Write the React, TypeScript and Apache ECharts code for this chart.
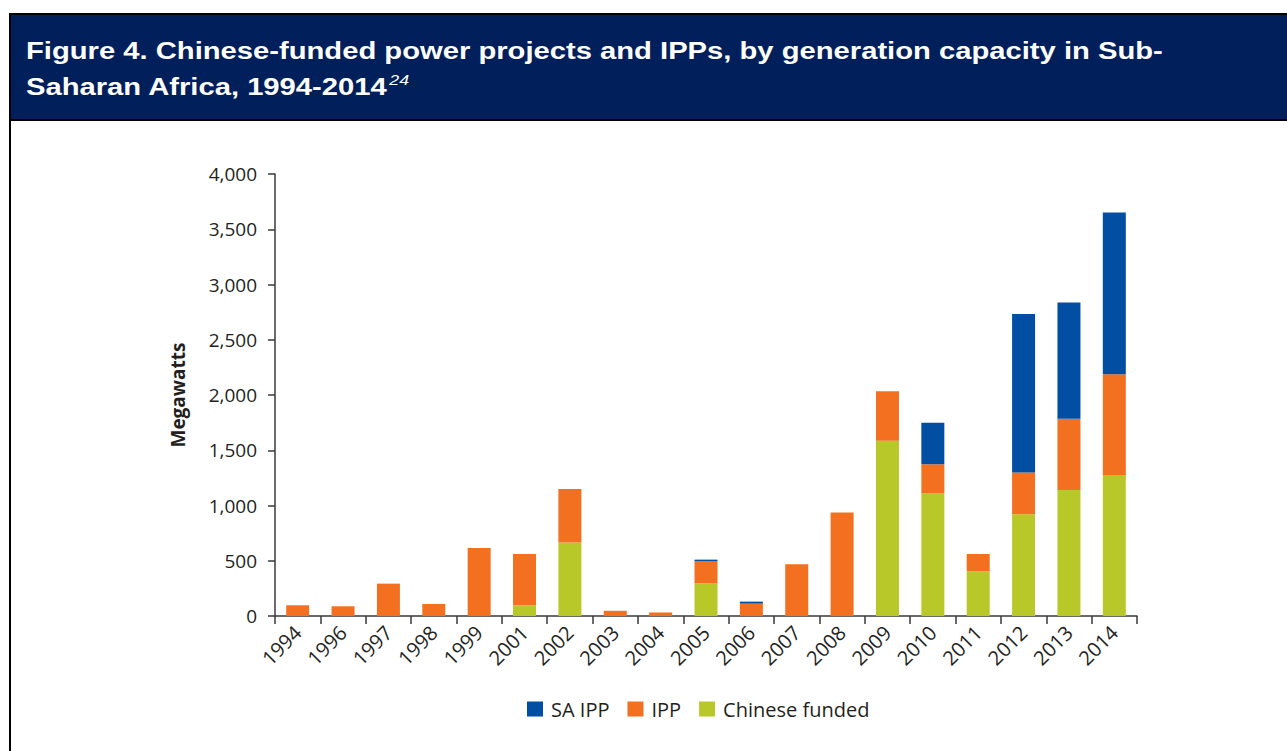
import React, { useEffect, useRef } from "react";
import * as echarts from "echarts";

const years = ["1994", "1996", "1997", "1998", "1999", "2001", "2002", "2003", "2004", "2005", "2006", "2007", "2008", "2009", "2010", "2011", "2012", "2013", "2014"];
const chineseFunded = [0, 0, 0, 0, 0, 97, 665, 0, 0, 295, 0, 0, 0, 1585, 1110, 405, 920, 1140, 1275];
const ipp = [97, 88, 293, 109, 615, 464, 485, 47, 32, 200, 112, 468, 936, 450, 263, 156, 378, 646, 912];
const saIpp = [0, 0, 0, 0, 0, 0, 0, 0, 0, 15, 18, 0, 0, 0, 377, 0, 1435, 1050, 1464];
const legendOrder = ["SA IPP", "IPP", "Chinese funded"];
const titleLine1 = "Figure 4. Chinese-funded power projects and IPPs, by generation capacity in Sub-";
const titleLine2 = "Saharan Africa, 1994-2014";
const titleNote = "24";

const COLORS = { sa: "#024EA2", ipp: "#F37021", cn: "#B8C828" };
const TEXT = "#231F20";
const AXIS = "#3a3a3a";

export default function App() {
  const ref = useRef<HTMLDivElement>(null);
  useEffect(() => {
    if (!ref.current) return;
    const chart = echarts.init(ref.current, undefined, { renderer: "svg" });
    chart.setOption({
      animation: false,
      backgroundColor: "#ffffff",
      graphic: [
        { type: "rect", left: 9, top: 13, shape: { width: 1290, height: 108 }, style: { fill: "#000000" } },
        { type: "rect", left: 11, top: 15, shape: { width: 1290, height: 104 }, style: { fill: "#001F5B" } },
        { type: "rect", left: 9, top: 121, shape: { width: 2, height: 640 }, style: { fill: "#000000" } },
        {
          type: "text",
          x: 26,
          y: 33,
          scaleX: 1.27,
          style: {
            text: "{t|" + titleLine1 + "}\n{t|" + titleLine2 + "}{s|" + titleNote + "}",
            fill: "#ffffff",
            rich: {
              t: { fontFamily: "Liberation Sans, Arial, sans-serif", fontWeight: "bold", fontSize: 23, lineHeight: 36, fill: "#ffffff" },
              s: { fontFamily: "Liberation Sans, Arial, sans-serif", fontStyle: "italic", fontSize: 14, lineHeight: 36, verticalAlign: "top", padding: [4, 0, 0, 1], fill: "#ffffff" },
            },
          },
        },
      ],
      legend: {
        data: legendOrder,
        left: 527,
        top: 699,
        padding: 0,
        itemWidth: 16,
        itemHeight: 15,
        itemGap: 18,
        icon: "rect",
        textStyle: { fontFamily: "Open Sans", fontSize: 20, color: TEXT, padding: [0, 0, 0, 3] },
      },
      grid: { left: 275, right: 150, top: 174, bottom: 135 },
      xAxis: {
        type: "category",
        data: years,
        axisLine: { lineStyle: { color: AXIS, width: 1.5 } },
        axisTick: { show: true, length: 8, lineStyle: { color: AXIS, width: 1.5 } },
        axisLabel: { rotate: 45, fontFamily: "Open Sans", fontSize: 20, color: TEXT, margin: 13 },
      },
      yAxis: {
        type: "value",
        min: 0,
        max: 4000,
        interval: 500,
        name: "Megawatts",
        nameLocation: "middle",
        nameRotate: 90,
        nameGap: 88,
        nameTextStyle: { fontFamily: "Open Sans", fontWeight: "bold", fontSize: 19, color: TEXT },
        axisLine: { show: true, lineStyle: { color: AXIS, width: 1.5 } },
        axisTick: { show: true, length: 7, lineStyle: { color: AXIS, width: 1.5 } },
        splitLine: { show: false },
        axisLabel: {
          fontFamily: "Open Sans",
          fontSize: 19,
          color: TEXT,
          margin: 18,
          formatter: (v: number) => v.toLocaleString("en-US"),
        },
      },
      series: [
        { name: "Chinese funded", type: "bar", stack: "total", barWidth: 23, data: chineseFunded, itemStyle: { color: COLORS.cn } },
        { name: "IPP", type: "bar", stack: "total", barWidth: 23, data: ipp, itemStyle: { color: COLORS.ipp } },
        { name: "SA IPP", type: "bar", stack: "total", barWidth: 23, data: saIpp, itemStyle: { color: COLORS.sa } },
      ],
    });
    return () => chart.dispose();
  }, []);
  return <div ref={ref} style={{ position: "absolute", left: 0, top: 0, width: 1287, height: 751 }} />;
}
